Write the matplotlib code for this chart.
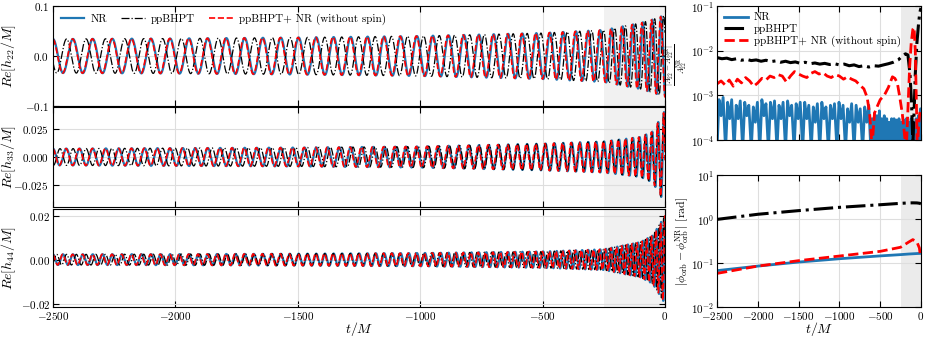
import numpy as np
import matplotlib.pyplot as plt

plt.rcParams["font.family"] = "serif"
plt.rcParams["font.serif"] = ["cmr10"]
plt.rcParams["mathtext.fontset"] = "cm"
plt.rcParams["axes.formatter.use_mathtext"] = True
plt.rcParams["font.size"] = 8
plt.rcParams["axes.unicode_minus"] = True

# waveform envelope (knot times in M)
knot_t = [-2500, -2000, -1500, -1000, -500, -250, -100, -50, 0]
f22 = [0.0122, 0.0129, 0.0138, 0.0152, 0.0178, 0.0210, 0.0250, 0.0270, 0.0290]
amp22 = [0.034, 0.035, 0.037, 0.040, 0.046, 0.052, 0.066, 0.073, 0.082]
amp33 = [0.0075, 0.0080, 0.0085, 0.0095, 0.0120, 0.0140, 0.0180, 0.0230, 0.0420]
amp44 = [0.0024, 0.0025, 0.0027, 0.0030, 0.0037, 0.0047, 0.0080, 0.0110, 0.0200]

# orbital phase error (bottom right panel)
phi_t = [-2500, -2000, -1500, -1000, -500, -250, -150, -100, -50, -20, -10, 0]
phi_nr = [0.067, 0.085, 0.105, 0.125, 0.145, 0.155, 0.160, 0.162, 0.164, 0.165, 0.165, 0.166]
phi_bhpt = [0.98, 1.28, 1.55, 1.84, 2.11, 2.27, 2.32, 2.33, 2.32, 2.28, 2.25, 2.20]
phi_rnr = [0.058, 0.085, 0.113, 0.144, 0.184, 0.228, 0.300, 0.340, 0.300, 0.220, 0.160, 0.170]

# relative amplitude error of the 22 mode (top right panel)
nr_t = [-2500, -2475, -2450, -2425, -2395, -2370, -2345, -2320, -2290, -2265, -2240, -2215,
        -2185, -2160, -2135, -2110, -2080, -2055, -2030, -2005, -1975, -1950, -1925, -1900,
        -1870, -1845, -1820, -1795, -1765, -1740, -1715, -1690, -1660, -1635, -1610, -1585,
        -1555, -1530, -1505, -1480, -1450, -1425, -1400, -1375, -1345, -1320, -1295, -1270,
        -1240, -1215, -1190, -1165, -1135, -1110, -1085, -1060, -1030, -1005, -980, -955,
        -925, -900, -875, -850, -820, -795, -770, -745, -715, -690, -665, -640,
        -615, -600, -585, -570, -555, -540, -525, -510, -495, -480, -465, -450, -435, -420,
        -405, -390, -375, -360, -345, -330, -315, -300, -285, -270, -255, -240, -225, -210,
        -195, -180, -165, -150, -135, -120, -105, -90, -75, -60, -45, -30, -15, -5, 0]
nr_err = [6e-5, 8e-4, 3.5e-4, 9e-4, 6e-5, 7e-4, 3e-4, 8e-4, 6e-5, 6e-4, 3e-4, 7.5e-4,
          6e-5, 7e-4, 3.5e-4, 6e-4, 6e-5, 5.5e-4, 2.5e-4, 7e-4, 6e-5, 8e-4, 3.5e-4, 6.5e-4,
          6e-5, 7e-4, 3e-4, 7.5e-4, 6e-5, 6e-4, 3e-4, 7e-4, 6e-5, 7.5e-4, 3.5e-4, 6e-4,
          6e-5, 6.5e-4, 3e-4, 7e-4, 6e-5, 7e-4, 3e-4, 6e-4, 6e-5, 5.5e-4, 2.5e-4, 6.5e-4,
          6e-5, 7e-4, 3e-4, 5.5e-4, 6e-5, 6e-4, 3e-4, 6.5e-4, 6e-5, 7e-4, 3e-4, 6e-4,
          6e-5, 5e-4, 2.5e-4, 6.5e-4, 6e-5, 6e-4, 2.5e-4, 5e-4, 6e-5, 5.5e-4, 2.5e-4, 6e-4,
          6e-5, 3e-4, 6e-5, 4e-4, 8e-5, 3.5e-4, 6e-5, 4.5e-4, 1e-4, 3e-4, 6e-5, 3.5e-4, 1e-4, 3e-4,
          6e-5, 2.5e-4, 8e-5, 3e-4, 6e-5, 3e-4, 1e-4, 2.8e-4, 6e-5, 3e-4, 9e-5, 2.5e-4, 6e-5, 2.8e-4,
          1e-4, 3e-4, 6e-5, 2.5e-4, 8e-5, 3e-4, 6e-5, 2.5e-4, 9e-5, 3e-4, 6e-5, 3.5e-4, 1e-4, 5e-4, 2e-4]

bhpt_t = [-2500, -2440, -2380, -2320, -2260, -2200, -2140, -2080, -2020, -1960, -1900, -1840,
          -1780, -1720, -1660, -1600, -1540, -1480, -1420, -1360, -1300, -1240, -1180, -1120,
          -1060, -1000, -940, -880, -820, -760, -700, -640, -580, -520, -460, -400, -340, -280,
          -230, -190, -160, -135, -115, -100, -85, -70, -50, -30, -15, -5, 0]
bhpt_err = [0.0070, 0.0066, 0.0068, 0.0063, 0.0066, 0.0061, 0.0064, 0.0060, 0.0062, 0.0058, 0.0061, 0.0057,
            0.0059, 0.0055, 0.0058, 0.0054, 0.0056, 0.0052, 0.0055, 0.0051, 0.0053, 0.0050, 0.0052, 0.0049,
            0.0051, 0.0048, 0.0050, 0.0046, 0.0048, 0.0044, 0.0046, 0.0043, 0.0046, 0.0045, 0.0048, 0.0051,
            0.0055, 0.0062, 0.0075, 0.0085, 0.0080, 0.0030, 0.0006, 0.00008, 0.0004, 0.0030, 0.015, 0.040,
            0.070, 0.085, 0.090]

rnr_t = [-2500, -2450, -2400, -2350, -2300, -2250, -2200, -2150, -2100, -2050, -2000, -1950,
         -1900, -1850, -1800, -1750, -1700, -1650, -1600, -1550, -1500, -1450, -1400, -1350,
         -1300, -1250, -1200, -1150, -1100, -1050, -1000, -950, -900, -850, -800, -750, -700,
         -660, -630, -600, -570, -530, -500, -450, -400, -350, -320, -290, -260, -230, -200,
         -180, -160, -140, -120, -100, -85, -70, -55, -45, -30, -15, 0]
rnr_err = [0.0018, 0.0021, 0.0017, 0.0022, 0.0016, 0.0023, 0.0019, 0.0025, 0.0021, 0.0016, 0.0019, 0.0024,
           0.0022, 0.0027, 0.0025, 0.0029, 0.0027, 0.0020, 0.0027, 0.0034, 0.0030, 0.0027, 0.0025, 0.0031,
           0.0034, 0.0030, 0.0032, 0.0027, 0.0025, 0.0029, 0.0027, 0.0023, 0.0026, 0.0023, 0.0021, 0.0017,
           0.0014, 0.0009, 0.0004, 0.00007, 0.0004, 0.0006, 0.0008, 0.0010, 0.0015, 0.0026, 0.0024, 0.0019,
           0.0009, 0.0004, 0.00012, 0.00006, 0.0005, 0.004, 0.015, 0.030, 0.033, 0.010, 0.0005, 0.00006,
           0.0002, 0.0004, 0.0005]

blue = "#1f77b4"
t = np.linspace(-2500, 0, 6000)
phase22 = 2 * np.pi * np.concatenate([[0], np.cumsum(np.diff(t) * np.interp(t[1:], knot_t, f22))])
dphi_bhpt = np.interp(t, phi_t, phi_bhpt)
dphi_rnr = np.interp(t, phi_t, phi_rnr)

fig = plt.figure(figsize=(9.26, 3.39), dpi=100)
lx, lw_ = 53 / 926, 612 / 926
tops = [6, 107, 209]
bots = [106, 207, 307]
left_axes = [fig.add_axes([lx, 1 - b / 339, lw_, (b - tp) / 339]) for tp, b in zip(tops, bots)]

modes = [(2, amp22, r"$Re[h_{22}/M]$", [-0.1, 0.0, 0.1], (-0.1, 0.1)),
         (3, amp33, r"$Re[h_{33}/M]$", [-0.025, 0.0, 0.025], (-0.045, 0.045)),
         (4, amp44, r"$Re[h_{44}/M]$", [-0.02, 0.0, 0.02], (-0.0215, 0.023))]

for ax, (m, amp, lab, yt, yl) in zip(left_axes, modes):
    A = np.interp(t, knot_t, amp)
    ph = m / 2 * phase22
    ax.axvspan(-250, 0, color="0.945", zorder=0, lw=0)
    ax.plot(t, A * np.cos(ph), color=blue, lw=1.6, label="NR")
    ax.plot(t, A * np.cos(ph + m * dphi_bhpt), "k-.", lw=0.9, label="ppBHPT")
    ax.plot(t, A * np.cos(ph + m * dphi_rnr), "r--", lw=1.2, label="ppBHPT+ NR (without spin)")
    ax.set_xlim(-2500, 0)
    ax.set_ylim(*yl)
    ax.set_yticks(yt)
    ax.set_xticks(range(-2500, 1, 500))
    ax.set_ylabel(lab, fontsize=10)
    ax.grid(True, color="0.87", lw=0.8)
    ax.set_axisbelow(True)
    ax.tick_params(direction="in", top=True, right=True, labelbottom=False, length=4, pad=3)
    ax.yaxis.set_label_coords(-0.057, 0.5)
left_axes[-1].tick_params(labelbottom=True, pad=2)
left_axes[-1].set_xlabel(r"$t/M$", fontsize=10, labelpad=-1)
left_axes[0].legend(loc="upper left", ncol=3, frameon=False, fontsize=8,
                    handlelength=2.1, handletextpad=0.55, columnspacing=1.3, borderaxespad=0.3)

# right column
rx, rw = 717 / 926, 204 / 926
ax1 = fig.add_axes([rx, 1 - 140 / 339, rw, 134 / 339])
ax2 = fig.add_axes([rx, 1 - 307 / 339, rw, 132 / 339])

ax1.axvspan(-250, 0, color="0.92", zorder=0, lw=0)
ax1.semilogy(nr_t, nr_err, color=blue, lw=2, label="NR")
ax1.semilogy(bhpt_t, bhpt_err, "k-.", lw=2.2, label="ppBHPT")
ax1.semilogy(rnr_t, rnr_err, "r--", lw=2, label="ppBHPT+ NR (without spin)")
ax1.set_ylim(1e-4, 1e-1)
ax1.set_ylabel(r"$\frac{|A_{22}-A_{22}^{\rm NR}|}{A_{22}^{\rm NR}}$", fontsize=8)
ax1.yaxis.set_label_coords(-0.13, 0.56)
ax1.legend(loc="upper left", frameon=False, fontsize=8, handlelength=2.2, handletextpad=0.5,
           borderaxespad=0.2, labelspacing=0.15)

ax2.axvspan(-250, 0, color="0.92", zorder=0, lw=0)
ax2.semilogy(phi_t, phi_nr, color=blue, lw=2)
ax2.semilogy(phi_t, phi_bhpt, "k-.", lw=2.2)
ax2.semilogy(phi_t, phi_rnr, "r--", lw=2)
ax2.set_ylim(1e-2, 1e1)
ax2.set_ylabel(r"$|\phi_{\rm orb}-\phi_{\rm orb}^{\rm NR}|$ [rad]", fontsize=8.5)
ax2.yaxis.set_label_coords(-0.125, 0.5)
ax2.set_xlabel(r"$t/M$", fontsize=10, labelpad=-1)

for ax in (ax1, ax2):
    ax.set_xlim(-2500, 0)
    ax.set_xticks(range(-2500, 1, 500))
    ax.minorticks_off()
    ax.grid(True, color="0.87", lw=0.8)
    ax.set_axisbelow(True)
    ax.tick_params(direction="in", top=True, right=True, length=4, pad=2)
ax1.tick_params(labelbottom=False)

fig.savefig("out.png", dpi=100)
